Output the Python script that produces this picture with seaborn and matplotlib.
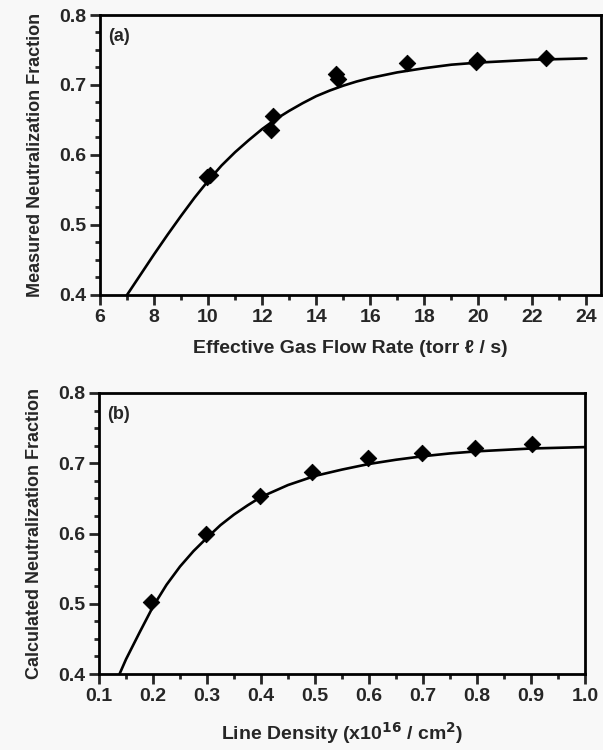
import numpy as np
import pandas as pd
import matplotlib
matplotlib.use("Agg")
import matplotlib.pyplot as plt
from matplotlib.ticker import MultipleLocator, FormatStrFormatter
import seaborn as sns

# panel (a): measured neutralization vs effective gas flow
flow_pts = [9.97, 10.07, 12.32, 12.40, 14.72, 14.80, 17.35, 19.90, 19.95, 22.52]
meas_pts = [0.569, 0.572, 0.636, 0.656, 0.716, 0.709, 0.731, 0.733, 0.735, 0.738]
flow_fit = [7.0, 7.5, 8.0, 8.5, 9.0, 9.5, 10.0, 10.5, 11.0, 11.5, 12.0, 12.5, 13.0, 13.5,
            14.0, 14.5, 15.0, 15.5, 16.0, 16.5, 17.0, 17.5, 18.0, 19.0, 20.0, 21.0, 22.0, 23.0, 24.0]
meas_fit = [0.400, 0.429, 0.458, 0.486, 0.513, 0.539, 0.563, 0.585, 0.604, 0.621, 0.637, 0.651, 0.663, 0.674,
            0.684, 0.692, 0.699, 0.705, 0.710, 0.714, 0.718, 0.721, 0.724, 0.729, 0.732, 0.734, 0.736, 0.737, 0.738]

# panel (b): calculated neutralization vs line density
dens_pts = [0.197, 0.298, 0.398, 0.494, 0.598, 0.698, 0.797, 0.901]
calc_pts = [0.502, 0.599, 0.653, 0.688, 0.707, 0.714, 0.722, 0.727]
dens_fit = [0.138, 0.15, 0.175, 0.2, 0.225, 0.25, 0.275, 0.3, 0.325, 0.35, 0.375, 0.4, 0.45, 0.5,
            0.55, 0.6, 0.65, 0.7, 0.75, 0.8, 0.85, 0.9, 0.95, 1.0]
calc_fit = [0.400, 0.421, 0.459, 0.496, 0.527, 0.553, 0.575, 0.594, 0.612, 0.627, 0.640, 0.652, 0.669, 0.682,
            0.691, 0.699, 0.705, 0.710, 0.714, 0.717, 0.719, 0.721, 0.722, 0.723]

sns.set_style("white")
plt.rcParams['font.family'] = ['Liberation Sans', 'DejaVu Sans']
plt.rcParams['font.weight'] = 'bold'
plt.rcParams['axes.labelweight'] = 'bold'
plt.rcParams['mathtext.default'] = 'bf'

bg = '#f8f8f8'
fig = plt.figure(figsize=(6.03, 7.5), dpi=100, facecolor=bg)
ax1 = fig.add_axes([0.1658, 0.6067, 0.8308, 0.3733], facecolor=bg)
ax2 = fig.add_axes([0.1642, 0.1013, 0.8060, 0.3747], facecolor=bg)


def style_axes(ax, xmaj, xmin):
    for s in ax.spines.values():
        s.set_linewidth(2.0)
        s.set_color('black')
    ax.yaxis.set_major_locator(MultipleLocator(0.1))
    ax.yaxis.set_minor_locator(MultipleLocator(0.025))
    ax.yaxis.set_major_formatter(FormatStrFormatter('%.1f'))
    ax.xaxis.set_major_locator(MultipleLocator(xmaj))
    ax.xaxis.set_minor_locator(MultipleLocator(xmin))
    ax.tick_params(which='major', direction='out', length=7, width=2, labelsize=14,
                   bottom=True, left=True, top=False, right=False, pad=3)
    ax.tick_params(which='minor', direction='out', length=3.5, width=2,
                   bottom=True, left=True, top=False, right=False)


sns.lineplot(x=flow_fit, y=meas_fit, ax=ax1, color='black', linewidth=1.9)
sns.scatterplot(x=flow_pts, y=meas_pts, ax=ax1, marker='D', s=70, color='black',
                edgecolor='black', zorder=3)
ax1.set_xlim(6, 24.54)
ax1.set_ylim(0.4, 0.8)
style_axes(ax1, 2, 1)
ax1.xaxis.set_major_formatter(FormatStrFormatter('%d'))
ax1.text(0.016, 0.955, '(a)', transform=ax1.transAxes, fontsize=13, va='top', ha='left')
ax1.set_xlabel('Effective Gas Flow Rate (torr \u2113 / s)', fontsize=14, labelpad=10)
ax1.set_ylabel('Measured Neutralization Fraction', fontsize=13, labelpad=11)

sns.lineplot(x=dens_fit, y=calc_fit, ax=ax2, color='black', linewidth=1.9)
sns.scatterplot(x=dens_pts, y=calc_pts, ax=ax2, marker='D', s=70, color='black',
                edgecolor='black', zorder=3)
ax2.set_xlim(0.1, 1.0)
ax2.set_ylim(0.4, 0.8)
style_axes(ax2, 0.1, 0.05)
ax2.xaxis.set_major_formatter(FormatStrFormatter('%.1f'))
ax2.text(0.016, 0.955, '(b)', transform=ax2.transAxes, fontsize=13, va='top', ha='left')
ax2.set_xlabel('Line Density (x10$^{16}$ / cm$^{2}$)', fontsize=14, labelpad=11)
ax2.set_ylabel('Calculated Neutralization Fraction', fontsize=13, labelpad=11)

fig.savefig('out.png', dpi=100, facecolor=bg)
